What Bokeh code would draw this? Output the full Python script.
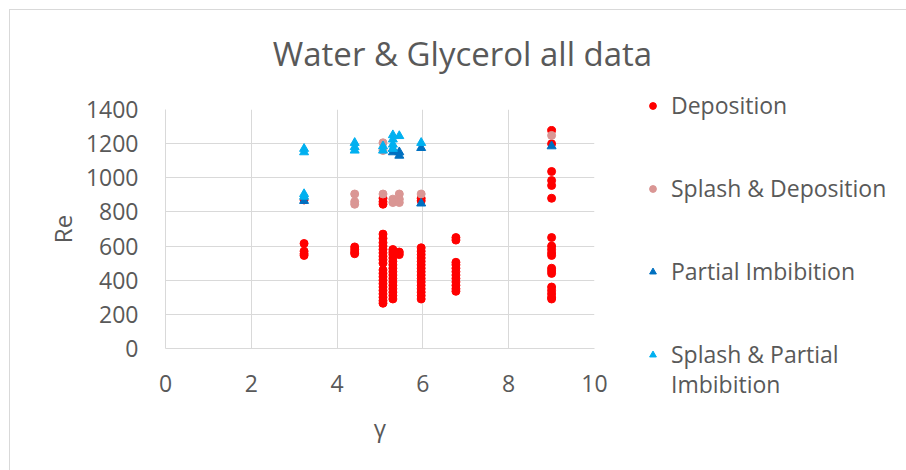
from bokeh.plotting import figure
from bokeh.layouts import row, column
from bokeh.models import Range1d, Legend, LegendItem, FixedTicker, Label
from bokeh.embed import file_html
from bokeh.resources import INLINE

# --- data ---
dep_x = [3.23]*5 + [4.41]*4 + [5.07]*23 + [5.30]*16 + [5.45]*2 + [5.96]*18 + [6.77]*12 + [9.0]*19
dep_y = [615, 570, 555, 545, 870,
         595, 580, 565, 555,
         670, 645, 620, 600, 580, 560, 540, 520, 500, 460, 440, 420, 400, 380, 360, 340, 320, 300, 280, 265, 880, 860, 845,
         580, 565, 550, 530, 510, 490, 470, 450, 430, 410, 390, 370, 350, 330, 310, 290,
         565, 550,
         590, 570, 550, 530, 510, 490, 470, 450, 430, 410, 390, 370, 350, 330, 310, 290, 880, 865,
         650, 635, 505, 490, 470, 450, 430, 410, 390, 370, 350, 335,
         1277, 1199, 1037, 984, 955, 880, 650, 600, 580, 560, 470, 455, 440, 360, 340, 320, 300, 290, 545]

spd_x = [4.41]*3 + [5.07]*3 + [5.30]*2 + [5.45]*3 + [5.96] + [9.0]
spd_y = [905, 860, 845, 1205, 1160, 905, 875, 855, 905, 875, 855, 905, 1248]

pi_x = [3.23, 5.30, 5.30, 5.45, 5.45, 5.96, 5.96, 9.0]
pi_y = [865, 1170, 1150, 1150, 1130, 1175, 850, 1185]

spi_x = [3.23]*4 + [4.41]*3 + [5.07]*2 + [5.30]*4 + [5.45] + [5.96]
spi_y = [1170, 1150, 905, 890, 1205, 1180, 1160, 1185, 1160, 1250, 1225, 1195, 1170, 1245, 1205]

x_ticks = [0, 2, 4, 6, 8, 10]
y_ticks = [0, 200, 400, 600, 800, 1000, 1200, 1400]

series_names = ["Deposition", "Splash & Deposition", "Partial Imbibition", "Splash & Partial"]
series_name_cont = "Imbibition"
series_colors = ["#FF0000", "#DA9694", "#0070C0", "#00B0F0"]
series_markers = ["circle", "circle", "triangle", "triangle"]
series_x = [dep_x, spd_x, pi_x, spi_x]
series_y = [dep_y, spd_y, pi_y, spi_y]
title_text = "Water & Glycerol all data"

FONT = "Open Sans"
TXT = "#595959"
GRID = "#D9D9D9"
LINE = "linear-gradient(#D9D9D9,#D9D9D9)"

# --- title strip ---
t = figure(width=906, height=80, output_backend="svg", toolbar_location=None,
           x_axis_type=None, y_axis_type=None, x_range=Range1d(0, 906), y_range=Range1d(0, 80),
           min_border=0)
t.frame_align = False
t.styles = {"background": f"{LINE} 9px 9px / 1px 100% no-repeat, {LINE} 9px 9px / 100% 1px no-repeat"}
t.outline_line_color = None
t.grid.visible = False
t.background_fill_alpha = 0
t.border_fill_alpha = 0
t.add_layout(Label(x=462, y=27, text=title_text, text_font=FONT, text_font_size="33px",
                   text_color=TXT, text_align="center", text_baseline="alphabetic"))

# --- main chart ---
p = figure(width=620, height=390, output_backend="svg", toolbar_location=None,
           x_range=Range1d(0, 10), y_range=Range1d(0, 1400),
           min_border_left=165, min_border_right=26, min_border_top=29, min_border_bottom=122)
p.frame_align = False
p.styles = {"background": f"{LINE} 9px 0px / 1px 100% no-repeat"}
p.outline_line_color = None
p.background_fill_color = "white"
p.border_fill_alpha = 0

for ax in (p.xaxis[0], p.yaxis[0]):
    ax.axis_line_color = GRID
    ax.major_tick_line_color = None
    ax.minor_tick_line_color = None
    ax.major_label_text_font = FONT
    ax.major_label_text_font_size = "23px"
    ax.major_label_text_color = TXT
    ax.axis_label_text_font = FONT
    ax.axis_label_text_font_size = "24px"
    ax.axis_label_text_color = TXT
    ax.axis_label_text_font_style = "normal"

p.xaxis.ticker = FixedTicker(ticks=x_ticks)
p.yaxis.ticker = FixedTicker(ticks=y_ticks)
p.xaxis.major_label_standoff = 20
p.yaxis.major_label_standoff = 21
p.xaxis.axis_label = "γ"
p.yaxis.axis_label = "Re"
p.xaxis.axis_label_standoff = 16
p.yaxis.axis_label_standoff = 4

p.xgrid.grid_line_color = GRID
p.ygrid.grid_line_color = GRID
p.xgrid.ticker = FixedTicker(ticks=x_ticks)
p.ygrid.ticker = FixedTicker(ticks=y_ticks)

for xs, ys, m, c in zip(series_x, series_y, series_markers, series_colors):
    p.scatter(xs, ys, marker=m, size=8 if m == "circle" else 9, color=c)

# --- legend panel (own figure so the legend is not clipped by the chart frame) ---
q = figure(width=286, height=390, output_backend="svg", toolbar_location=None,
           x_axis_type=None, y_axis_type=None, x_range=Range1d(-2, -1), y_range=Range1d(-2, -1),
           min_border=0)
q.frame_align = False
q.outline_line_color = None
q.grid.visible = False
q.background_fill_alpha = 0
q.border_fill_alpha = 0

keys = [q.scatter(xs, ys, marker=m, size=8, color=c)
        for xs, ys, m, c in zip(series_x, series_y, series_markers, series_colors)]
blank = q.scatter(spi_x, spi_y, marker="circle", size=8, fill_alpha=0, line_alpha=0)

common = dict(orientation="vertical", glyph_width=17, glyph_height=17, label_standoff=10,
              padding=0, margin=0, label_height=30,
              label_text_font=FONT, label_text_font_size="23px", label_text_color=TXT,
              border_line_alpha=0, background_fill_alpha=0)
legA = Legend(items=[LegendItem(label=n, renderers=[r]) for n, r in zip(series_names, keys)],
              location=(24, 100), spacing=51, **common)
legB = Legend(items=[LegendItem(label=series_name_cont, renderers=[blank])],
              location=(24, 70), spacing=0, **common)
q.add_layout(legA)
q.add_layout(legB)

layout = column(t, row(p, q, spacing=0), spacing=0)
open("out.html", "w").write(file_html(layout, INLINE))
